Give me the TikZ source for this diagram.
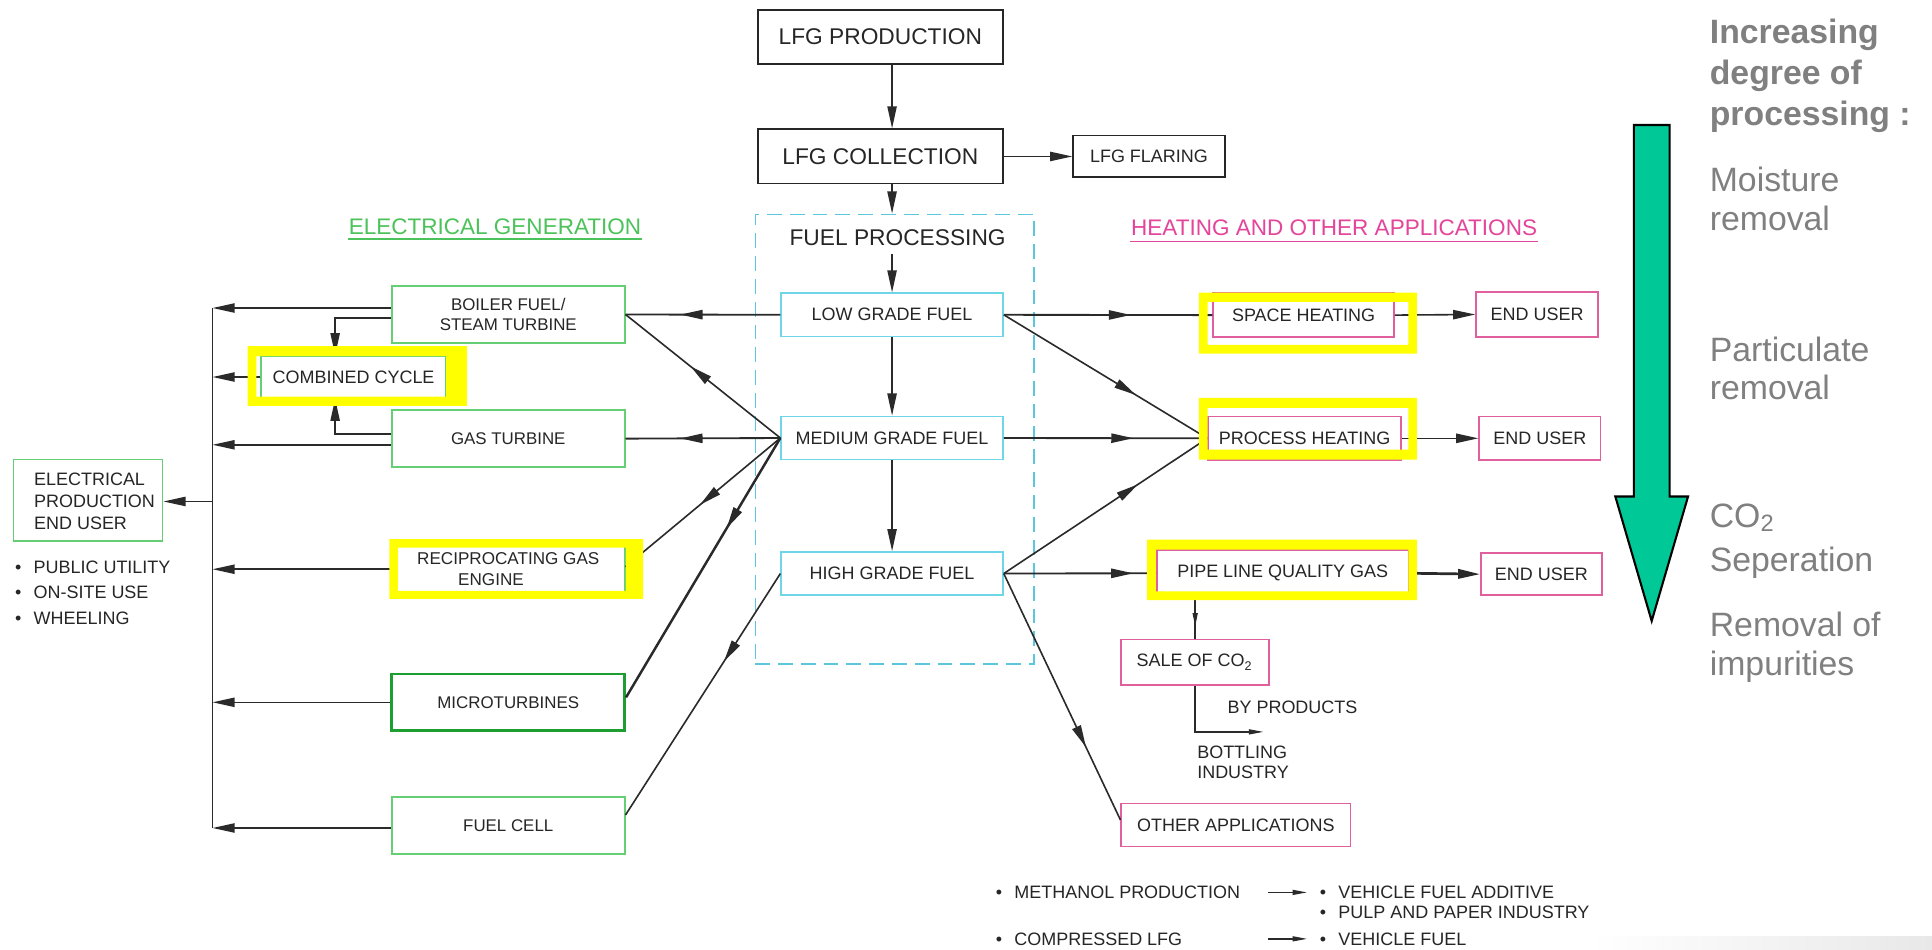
\documentclass[tikz,border=0pt]{standalone}
\usepackage{fontspec}
\setmainfont{Liberation Sans}
\usetikzlibrary{arrows.meta,decorations.markings,calc}
\definecolor{ink}{HTML}{262626}
\definecolor{lnc}{HTML}{2A2A2A}
\definecolor{grn}{HTML}{66CF74}
\definecolor{dgrn}{HTML}{1E9E30}
\definecolor{gtxt}{HTML}{4CC25A}
\definecolor{cyn}{HTML}{6ED6E8}
\definecolor{dcyn}{HTML}{5CC6DC}
\definecolor{pnk}{HTML}{E0609E}
\definecolor{ptxt}{HTML}{E4449A}
\definecolor{yel}{HTML}{FFFF00}
\definecolor{tgreen}{HTML}{00C896}
\definecolor{gtx}{HTML}{808080}
\newcommand\bul{\textbullet\hspace{1.0mm}}
\tikzset{
 fA/.style={font=\fontsize{5.25pt}{6pt}\selectfont},
 fB/.style={font=\fontsize{4.15pt}{5pt}\selectfont},
 fC/.style={font=\fontsize{3.9pt}{4.4pt}\selectfont},
 box/.style={rectangle, inner sep=0pt, text=ink, align=center},
 kbox/.style={box, draw=ink, line width=0.15mm, fA},
 gbox/.style={box, draw=grn, line width=0.13mm, fC},
 cbox/.style={box, draw=cyn, line width=0.13mm, fB},
 pbox/.style={box, draw=pnk, line width=0.13mm, fB},
 conn/.style={draw=lnc, line width=0.13mm},
 tipend/.style={-{Triangle[length=1.8mm,width=0.75mm]}},
 smalltip/.style={-{Triangle[length=1.2mm,width=0.4mm]}},
 marr/.style={postaction={decorate},decoration={markings,mark=at position #1 with {\arrow{Triangle[length=1.8mm,width=0.75mm]}}}},
 smarr/.style={postaction={decorate},decoration={markings,mark=at position #1 with {\arrow{Triangle[length=1.1mm,width=0.4mm]}}}},
 lbl/.style={inner sep=0pt, text=ink, fB, anchor=base west},
 side/.style={inner sep=0pt, text=gtx, anchor=base west, font=\fontsize{7.8pt}{9pt}\selectfont},
 sideb/.style={side, font=\fontsize{7.8pt}{9pt}\selectfont\bfseries},
 head/.style={inner sep=0pt, anchor=base, font=\fontsize{5.2pt}{6pt}\selectfont},
}
\begin{document}
\begin{tikzpicture}[x=0.1mm,y=-0.1mm]
\fill[white] (0,0) rectangle (1568,771);
\useasboundingbox (0,0) rectangle (1568,771);

% ---------- top chain ----------
\node[kbox, minimum width=19.9mm, minimum height=4.4mm] (prod) at (714.5,30) {LFG PRODUCTION};
\node[kbox, minimum width=19.9mm, minimum height=4.4mm] (coll) at (714.5,127) {LFG COLLECTION};
\node[kbox, fB, minimum width=12.3mm, minimum height=3.4mm] (flar) at (932.5,127) {LFG FLARING};

\node[draw=dcyn, dash pattern=on 1.2mm off 0.65mm, line width=0.13mm, minimum width=22.6mm, minimum height=36.5mm, inner sep=0pt] (fp) at (726,356.5) {};
\node[inner sep=0pt, fA, text=ink] (fpt) at (728.5,193) {FUEL PROCESSING};

\node[cbox, minimum width=18mm, minimum height=3.5mm] (low) at (724,255.5) {LOW GRADE FUEL};
\node[cbox, minimum width=18mm, minimum height=3.5mm] (med) at (724,355.5) {MEDIUM GRADE FUEL};
\node[cbox, minimum width=18mm, minimum height=3.5mm] (high) at (724,465.5) {HIGH GRADE FUEL};

% ---------- left column ----------
\node[head, text=gtxt] (eg) at (401.75,190.5) {ELECTRICAL GENERATION};
\draw[gtxt, line width=0.1mm] ($(eg.base west)+(0,3.5)$) -- ($(eg.base east)+(0,3.5)$);

\node[gbox, minimum width=18.9mm, minimum height=4.65mm] (boil) at (412.5,255.25) {BOILER FUEL/\\STEAM TURBINE};
\node[gbox, fB, minimum width=15mm, minimum height=3.4mm] (cc) at (287,306) {COMBINED CYCLE};
\node[gbox, minimum width=18.9mm, minimum height=4.6mm] (gt) at (412.5,356) {GAS TURBINE};
\node[gbox, font=\fontsize{3.95pt}{4.8pt}\selectfont, minimum width=18.9mm, minimum height=4.6mm] (recip) at (412.5,462) {RECIPROCATING GAS\\ENGINE\hspace*{2.8mm}};
\node[gbox, draw=dgrn, line width=0.22mm, minimum width=18.9mm, minimum height=4.6mm] (micro) at (412.5,570) {MICROTURBINES};
\node[gbox, minimum width=18.9mm, minimum height=4.6mm] (fc) at (412.5,670) {FUEL CELL};

\node[gbox, minimum width=12.1mm, minimum height=6.6mm] (epu) at (71.5,406) {};
\node[inner sep=0pt, fB, text=ink, align=left, anchor=west, font=\fontsize{4.15pt}{5pt}\selectfont] (eput) at (27,407) {ELECTRICAL\\PRODUCTION\\END USER};
\node[lbl] (u1) at (11.5,465.3) {\bul PUBLIC UTILITY};
\node[lbl] (u2) at (11.5,486) {\bul ON-SITE USE};
\node[lbl] (u3) at (11.5,507) {\bul WHEELING};

% bus
\coordinate (bustop) at (172.5,250);
\coordinate (busbot) at (172.5,672);
\coordinate (gtb) at (172.5,361);
\coordinate (bepu) at (172.5,407);
\draw[conn] (bustop) -- (busbot);
\draw[conn,tipend] (boil.west |- bustop) -- (bustop);
\draw[conn,tipend] (cc.west) -- (cc.west -| bustop);
\draw[conn,tipend] (gt.west |- gtb) -- (gtb);
\draw[conn,tipend] (recip.west) -- (recip.west -| bustop);
\draw[conn,tipend] (micro.west) -- (micro.west -| bustop);
\draw[conn,tipend] (fc.west |- busbot) -- (busbot);
\draw[conn,tipend] (bepu) -- (epu.east |- bepu);

% combined cycle feeds
\draw[conn,tipend] ($(boil.west)+(0,2.75)$) -| ($(cc.north)+(-15,0)$);
\draw[conn,tipend] ($(gt.west)+(0,-4)$) -| ($(cc.south)+(-15,0)$);

% grade fuel to left
\draw[conn,line width=0.15mm,marr=0.646] (low.west) -- (boil.east);
\draw[conn,marr=0.58] (med.west) -- (boil.east);
\draw[conn,line width=0.15mm,marr=0.646] (med.west) -- (gt.east);
\draw[conn,marr=0.52] (med.west) -- ($(recip.east)+(0,-2)$);
\draw[conn,line width=0.2mm,marr=0.35] (med.west) -- ($(micro.east)+(0,-4)$);
\draw[conn,marr=0.365] (high.west) -- ($(fc.east)+(0,-8.5)$);

% top arrows
\draw[conn,tipend] (prod.south -| low) -- (coll.north -| low);
\draw[conn,tipend] (coll.east) -- (flar.west);
\draw[conn,tipend] (coll.south -| low) -- (fp.north -| low);
\draw[conn,tipend] ($(fpt.south -| low)+(0,6)$) -- (low.north);
\draw[conn,tipend] (low.south) -- (med.north);
\draw[conn,tipend] (med.south) -- (high.north);

% ---------- right column ----------
\node[head, text=ptxt] (ha) at (1082.75,191.5) {HEATING AND OTHER APPLICATIONS};
\draw[ptxt, line width=0.1mm] ($(ha.base west)+(0,4.5)$) -- ($(ha.base east)+(0,4.5)$);

\node[pbox, minimum width=14.7mm, minimum height=3.55mm] (sh) at (1058,255.75) {SPACE HEATING};
\node[pbox, minimum width=15.65mm, minimum height=3.55mm] (ph) at (1058.75,355.75) {PROCESS HEATING};
\node[pbox, minimum width=20.4mm, minimum height=3.75mm] (pl) at (1041,465.25) {PIPE LINE QUALITY GAS};
\node[pbox, minimum width=9.9mm, minimum height=3.65mm] (eu1) at (1247.5,255.25) {END USER};
\node[pbox, minimum width=9.85mm, minimum height=3.55mm] (eu2) at (1249.75,355.75) {END USER};
\node[pbox, minimum width=9.8mm, minimum height=3.4mm] (eu3) at (1251,466) {END USER};
\node[pbox, minimum width=12mm, minimum height=3.7mm] (sale) at (970,537.5) {SALE OF CO\textsubscript{2}};
\node[pbox, minimum width=18.6mm, minimum height=3.5mm] (oa) at (1003,669.5) {OTHER APPLICATIONS};

\draw[conn,line width=0.15mm,marr=0.61] (low.east) -- (sh.west);
\draw[conn,marr=0.65] (low.east) -- (ph.west);
\draw[conn,line width=0.15mm,marr=0.637] (med.east) -- (ph.west);
\draw[conn,marr=0.66] (high.east) -- (ph.west);
\draw[conn,line width=0.15mm,marr=0.85] (high.east) -- (pl.west);
\draw[conn,marr=0.705] (high.east) -- ($(oa.west)+(0,-4)$);
\draw[conn,tipend] (sh.east) -- (eu1.west);
\draw[conn,tipend] (ph.east) -- (eu2.west);
\draw[conn,tipend,line width=0.22mm] (pl.east) -- (eu3.west);
\draw[conn,smarr=0.71] (pl.south -| sale.north) -- (sale.north);
\coordinate (bpend) at (1025.6,594);
\draw[conn,smalltip] (sale.south) |- (bpend);

\node[lbl] (byp) at (995.6,579.3) {BY PRODUCTS};
\node[lbl] (bot1) at (971,615.3) {BOTTLING};
\node[lbl] (bot2) at (971,632) {INDUSTRY};

% ---------- yellow highlights ----------
\fill[yel,even odd rule] (201,281) rectangle (379,329.5) (208,289) rectangle (362,322);
\fill[yel,even odd rule] (316,437.5) rectangle (522,486) (323,444.5) rectangle (508,479.5);
\fill[yel,even odd rule] (973,237.5) rectangle (1150,287) (980,245) rectangle (1143,280);
\fill[yel,even odd rule] (973,323) rectangle (1150,373) (980,331) rectangle (1143,365);
\fill[yel,even odd rule] (931,438) rectangle (1150,487) (938,446) rectangle (1143,480);

% ---------- bottom list ----------
\node[lbl] (m1) at (807.5,729.3) {\bul METHANOL PRODUCTION};
\node[lbl] (v1) at (1070.5,729.3) {\bul VEHICLE FUEL ADDITIVE};
\node[lbl] (v2) at (1070.5,745.3) {\bul PULP AND PAPER INDUSTRY};
\node[lbl] (c1) at (807.5,767) {\bul COMPRESSED LFG};
\node[lbl] (v3) at (1070.5,767) {\bul VEHICLE FUEL};
\draw[conn,smalltip,shorten <=2.2mm,shorten >=0.95mm] (m1.east) -- (v1.west);
\draw[conn,smalltip,shorten <=6.9mm,shorten >=0.95mm] (c1.east) -- (v3.west);

% ---------- processing arrow & notes ----------
\draw[fill=tgreen, draw=black, line width=0.17mm] (1326,101.5) -- (1355,101.5) -- (1355,403) -- (1370,403) -- (1340.5,504) -- (1311,403) -- (1326,403) -- cycle;
\node[sideb] (s1) at (1387,35.5) {Increasing};
\node[sideb] (s2) at (1387,68.5) {degree of};
\node[sideb] (s3) at (1387,101.5) {processing :};
\node[side] (s4) at (1387,155.6) {Moisture};
\node[side] (s5) at (1387,186.7) {removal};
\node[side] (s6) at (1387,293) {Particulate};
\node[side] (s7) at (1387,324) {removal};
\node[side] (s8) at (1387,428) {CO\textsubscript{2}};
\node[side] (s9) at (1387,463.5) {Seperation};
\node[side] (s10) at (1387,516.5) {Removal of};
\node[side] (s11) at (1387,548) {impurities};

\shade[left color=white, right color=black!9] (1290,760) rectangle (1568,771);
\end{tikzpicture}
\end{document}
